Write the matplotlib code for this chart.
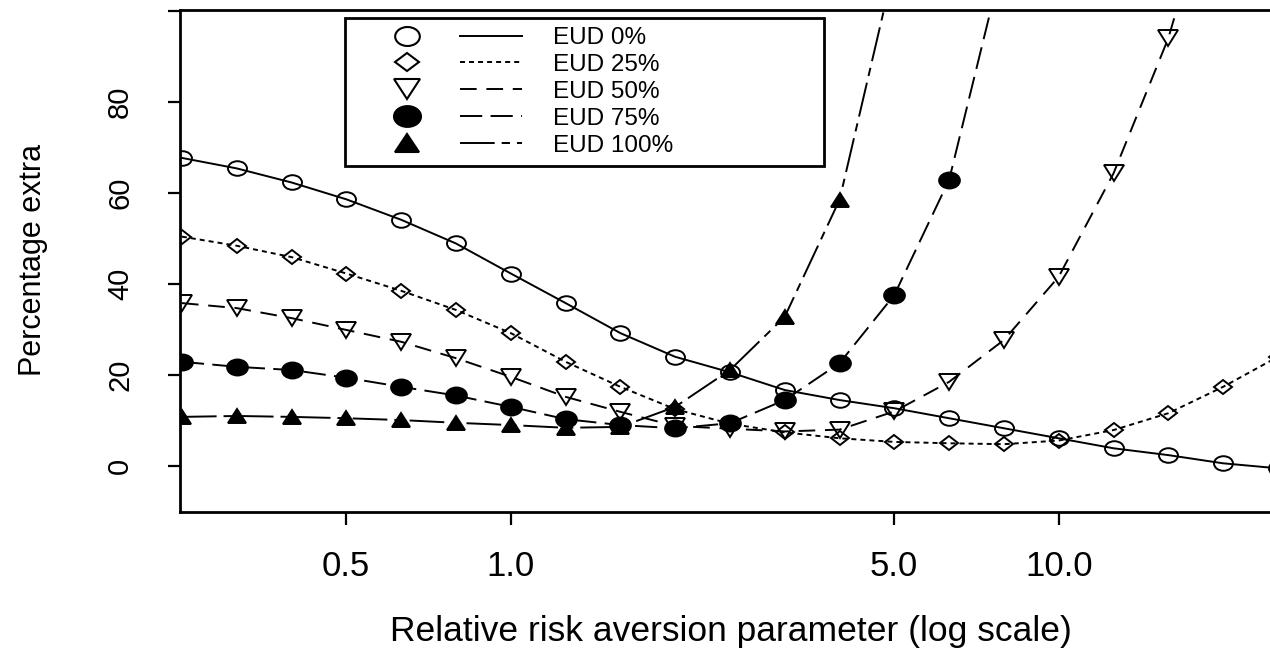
import numpy as np
import matplotlib
matplotlib.use("Agg")
import matplotlib.pyplot as plt
from matplotlib.lines import Line2D
from matplotlib.markers import MarkerStyle
from matplotlib.transforms import Affine2D
from matplotlib.legend_handler import HandlerBase

plt.rcParams['font.family'] = ['Liberation Sans', 'DejaVu Sans']
plt.rcParams['lines.scale_dashes'] = False

# relative risk aversion parameter (log-spaced grid)
rra = [0.251, 0.316, 0.398, 0.501, 0.631, 0.794, 1.0, 1.259, 1.585, 1.995,
       2.512, 3.162, 3.981, 5.012, 6.31, 7.943, 10.0, 12.589, 15.849,
       19.953, 25.119]

# percentage extra
eud0 = [67.7, 65.4, 62.3, 58.6, 54.1, 48.9, 42.3, 35.8, 29.2, 24.0, 20.6,
        16.7, 14.5, 12.7, 10.5, 8.3, 6.1, 3.9, 2.4, 0.6, -0.5]
eud25 = [50.4, 48.4, 45.9, 42.3, 38.5, 34.3, 29.2, 22.9, 17.4, 12.5, 9.3,
         7.4, 6.1, 5.3, 5.0, 4.8, 5.6, 7.9, 11.6, 17.4, 24.0]
eud50 = [35.8, 34.7, 32.5, 29.9, 27.3, 23.7, 19.6, 15.2, 11.9, 8.8, 8.2,
         7.6, 8.0, 12.0, 18.5, 27.7, 41.6, 64.3, 94.0, 135.0]
eud75 = [22.9, 21.8, 21.1, 19.4, 17.4, 15.5, 13.0, 10.3, 9.0, 8.3, 9.4,
         14.5, 22.6, 37.6, 62.9, 112.0]
eud100 = [10.8, 11.0, 10.8, 10.5, 10.1, 9.5, 9.0, 8.4, 8.6, 13.0, 21.1,
          32.8, 58.5, 110.0]

labels = ['EUD 0%', 'EUD 25%', 'EUD 50%', 'EUD 75%', 'EUD 100%']
series = [eud0, eud25, eud50, eud75, eud100]

xticks = [0.5, 1.0, 5.0, 10.0]
xticklabels = ['0.5', '1.0', '5.0', '10.0']
yticks = [0, 20, 40, 60, 80, 100]
yticklabels = ['0', '20', '40', '60', '80', '']

# the original is stretched sideways, so squash the markers the same way
stretch = Affine2D().scale(1.3, 1.0)
styles = [
    dict(marker=MarkerStyle('o', transform=stretch), ms=10.5, mfc='none', ls='-'),
    dict(marker=MarkerStyle('D', transform=stretch), ms=7.3, mfc='none', ls=(0, (3.6, 2.9))),
    dict(marker=MarkerStyle('v', transform=stretch), ms=11.5, mfc='none', ls=(0, (12, 7))),
    dict(marker=MarkerStyle('o', transform=stretch), ms=11.5, mfc='black', ls=(0, (16, 6))),
    dict(marker=MarkerStyle('^', transform=stretch), ms=10.5, mfc='black', ls=(0, (25, 5, 6, 5))),
]


class MarkerThenLine(HandlerBase):
    # R style legend: symbol, then a separate line sample
    def create_artists(self, legend, orig_handle, xdescent, ydescent,
                       width, height, fontsize, trans):
        st = orig_handle
        y = height / 2 - ydescent
        m = Line2D([-xdescent + 0.315 * width], [y], lw=0, marker=st['marker'],
                   ms=st['ms'] * 1.3, mfc=st['mfc'], mec='black', mew=1.5)
        l = Line2D([-xdescent + 0.63 * width, -xdescent + width], [y, y],
                   color='black', lw=1.4, ls=st['ls'])
        m.set_transform(trans)
        l.set_transform(trans)
        return [m, l]


fig = plt.figure(figsize=(12.7, 6.62), dpi=100)
ax = fig.add_axes([180 / 1270, 1 - 512 / 662, 1 - 180 / 1270, 502 / 662])

for vals, st in zip(series, styles):
    ax.plot(rra[:len(vals)], vals, color='black', lw=1.4, mec='black',
            mew=1.4, **st)

ax.set_xscale('log')
ax.set_xlim(0.249, 24.3)
ax.set_ylim(-10.1, 100.2)

ax.set_xticks(xticks)
ax.set_xticklabels(xticklabels)
ax.xaxis.set_minor_locator(matplotlib.ticker.NullLocator())
ax.set_yticks(yticks)
ax.set_yticklabels(yticklabels, rotation=90, va='center')

ax.tick_params(axis='both', direction='out', length=9, width=1.6)
ax.tick_params(axis='x', pad=18, labelsize=25)
ax.tick_params(axis='y', pad=24, labelsize=21)

for side in ['left', 'bottom', 'top']:
    ax.spines[side].set_linewidth(2.0)
ax.spines['right'].set_visible(False)

ax.set_xlabel('Relative risk aversion parameter (log scale)', fontsize=25.5)
ax.set_ylabel('Percentage extra', fontsize=22)
ax.xaxis.set_label_coords(0.505, -0.239)
ax.yaxis.set_label_coords(-0.135, 0.502)
ax.xaxis.label.set_va('center')
ax.yaxis.label.set_va('center')

handles = [dict(st) for st in styles]
for h in handles:
    h['ls'] = h['ls']

leg = ax.legend(handles, labels, loc='upper left', mode='expand',
                bbox_to_anchor=(0.1514, 0.681, 0.4394, 0.303),
                borderaxespad=0, fontsize=17.5, handlelength=6.9,
                handletextpad=1.28, labelspacing=0.2, borderpad=0.37,
                fancybox=False, framealpha=1, edgecolor='black',
                handler_map={dict: MarkerThenLine()})
leg.get_frame().set_linewidth(2.0)

fig.savefig('out.png', dpi=100)
